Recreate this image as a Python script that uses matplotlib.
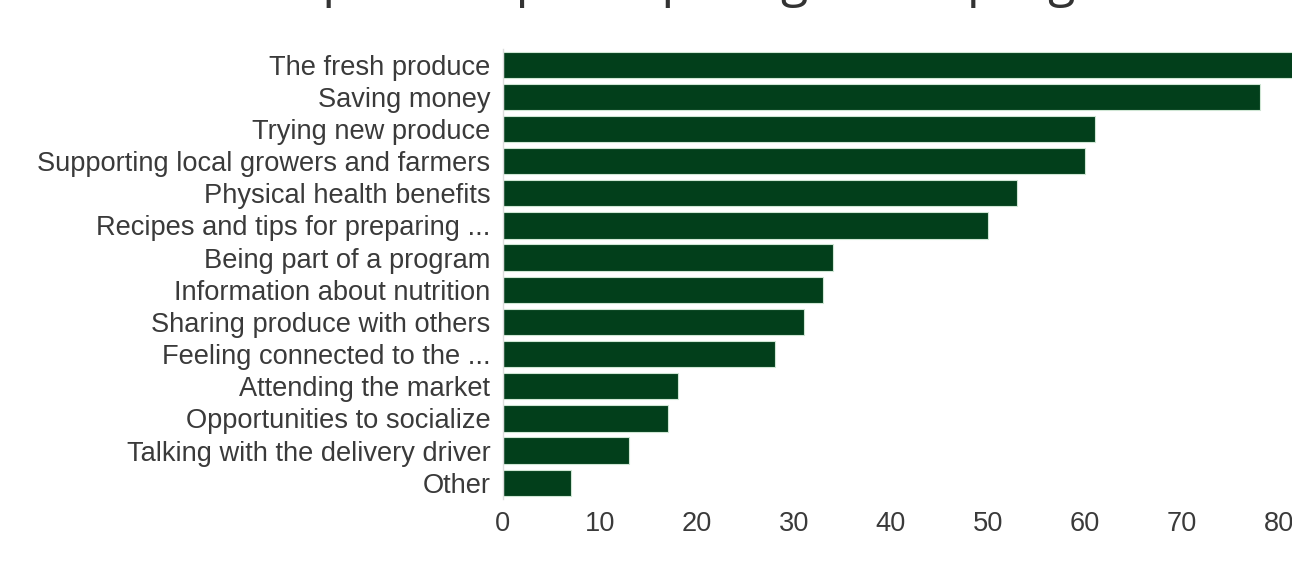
import matplotlib
matplotlib.use("Agg")
from matplotlib import pyplot as plt

# Data
categories = [
    "The fresh produce",
    "Saving money",
    "Trying new produce",
    "Supporting local growers and farmers",
    "Physical health benefits",
    "Recipes and tips for preparing ...",
    "Being part of a program",
    "Information about nutrition",
    "Sharing produce with others",
    "Feeling connected to the ...",
    "Attending the market",
    "Opportunities to socialize",
    "Talking with the delivery driver",
    "Other",
]
counts = [85, 78, 61, 60, 53, 50, 34, 33, 31, 28, 18, 17, 13, 7]
x_ticks = [0, 10, 20, 30, 40, 50, 60, 70, 80, 90]
title = "Favorite parts of participating in the program"

bar_color = "#023f1b"
text_color = "#3a3a3a"

plt.rcParams["font.family"] = ["Liberation Sans", "DejaVu Sans"]

fig = plt.figure(figsize=(12.92, 5.72), dpi=100)
fig.patch.set_facecolor("white")

# Axes run past the right edge, like the cropped original
ax = fig.add_axes([0.3893, 0.128, 0.6757, 0.787])

ypos = list(range(len(categories)))
ax.barh(ypos, counts, height=0.82, color=bar_color,
        edgecolor="#cfe6d4", linewidth=0.8)

ax.set_xlim(0, 90)
ax.set_ylim(len(categories) - 0.5, -0.5)
ax.set_yticks(ypos)
ax.set_yticklabels(categories, fontsize=19.6, color=text_color)
ax.set_xticks(x_ticks)
ax.set_xticklabels([str(t) for t in x_ticks], fontsize=19.6, color=text_color)
ax.tick_params(axis="both", length=0)
ax.tick_params(axis="y", pad=9)
ax.tick_params(axis="x", pad=9)

for side in ["top", "right", "bottom"]:
    ax.spines[side].set_visible(False)
ax.spines["left"].set_color("#dddddd")
ax.spines["left"].set_linewidth(1)

# Title sits mostly above the visible area in the reference
fig.text(0.5, 1.007, title, ha="center", va="baseline",
         fontsize=36, color="#333333", family=["Open Sans", "DejaVu Sans"])

plt.savefig("out.png", dpi=100)
